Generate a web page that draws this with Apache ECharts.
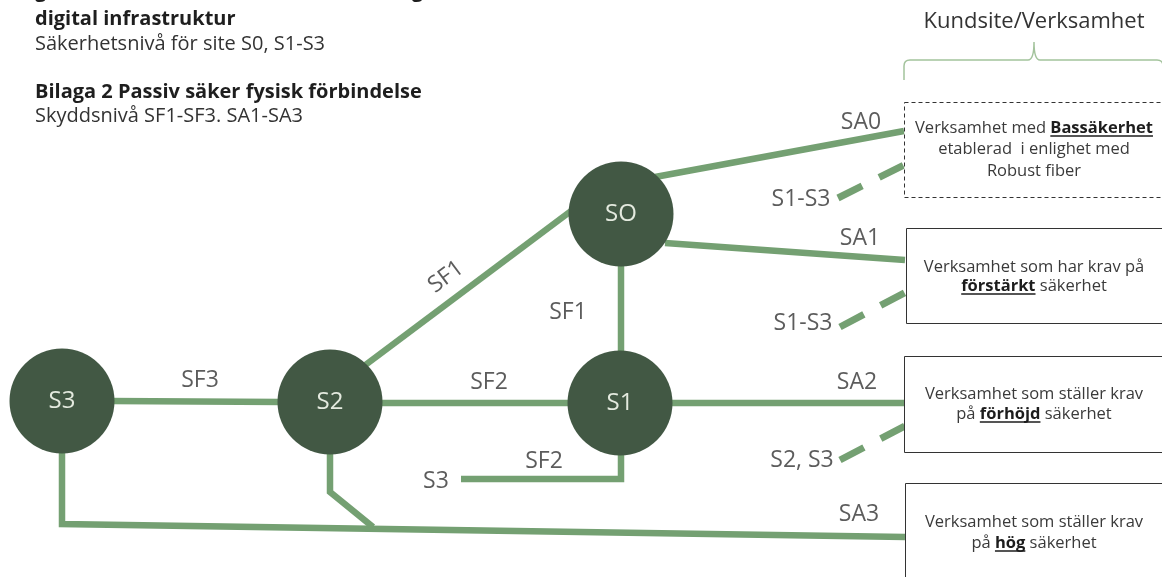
<!DOCTYPE html>
<html><head><meta charset="utf-8">
<script src="https://cdn.jsdelivr.net/npm/echarts@6/dist/echarts.min.js"></script>
<style>html,body{margin:0;padding:0;background:#fff}#c{width:1162px;height:577px}</style>
</head><body><div id="c"></div>
<script>
// ---------- data ----------
const nodeNames = ['S3', 'S2', 'S1', 'SO'];
const nodeX = [62, 330, 620, 621];
const nodeY = [401, 402, 403, 214];

// solid connections (polylines, diagram coordinates)
const solidEdges = [
  [[110, 401], [282, 402]],              // S3 - S2 (SF3)
  [[378, 403], [572, 403]],              // S2 - S1 (SF2)
  [[360, 369], [575, 208]],              // S2 - SO (SF1)
  [[621, 262], [621, 355]],              // SO - S1 (SF1)
  [[655, 177], [904, 131]],              // SO - SA0
  [[665, 243], [905, 260]],              // SO - SA1
  [[668, 403], [905, 403]],              // S1 - SA2
  [[621, 450], [621, 479], [461, 479]],  // S1 - S3 (SF2)
  [[62, 450], [62, 524], [905, 537]],    // S3 - SA3
  [[330, 452], [330, 492], [373, 527]]   // S2 - SA3
];
// dashed connections
const dashedEdges = [
  [[838, 198], [904, 165]],
  [[840, 327], [906, 292]],
  [[840, 460], [905, 426]]
];
// edge labels: text, x, y, rotation
const edgeLabelText = ['SF3', 'SF2', 'SF1', 'SF1', 'SA0', 'S1-S3', 'SA1', 'S1-S3', 'SA2', 'S2, S3', 'SF2', 'S3', 'SA3'];
const edgeLabelX    = [200, 489, 446, 568, 861, 801, 860, 803, 857, 802, 544, 436, 859];
const edgeLabelY    = [380, 382, 277, 312, 122, 199, 238, 323, 382, 460, 461, 481, 514];
const edgeLabelRot  = [0, 0, 37, 0, 0, 0, 0, 0, 0, 0, 0, 0, 0];

// customer boxes
const boxLeft   = [904, 906, 904, 905];
const boxTop    = [102, 228, 356, 483];
const boxBottom = [197, 323, 452, 600];
const boxDashed = [true, false, false, false];
const boxTextY  = [[128, 149, 171], [267, 286], [394, 414], [522, 543]];
// segments: [text, bold?]
const boxLines = [
  [[['Verksamhet med ', 0], ['Bassäkerhet', 1]], [['etablerad  i enlighet med', 0]], [['Robust fiber', 0]]],
  [[['Verksamhet som har krav på', 0]], [['förstärkt', 1], [' säkerhet', 0]]],
  [[['Verksamhet som ställer krav', 0]], [['på ', 0], ['förhöjd', 1], [' säkerhet', 0]]],
  [[['Verksamhet som ställer krav', 0]], [['på ', 0], ['hög', 1], [' säkerhet', 0]]]
];
const boxCenterX = 1034;
const rightEdge = 1163;

const headerTitle = 'Kundsite/Verksamhet';

// ---------- rendering ----------
const FONT = "'Open Sans', sans-serif";
const LINE = '#74a072';
const NODE = '#425844';
const TEXT = '#333333';
const BOXFONT = 16.5;

const mctx = document.createElement('canvas').getContext('2d');
function measure(t, bold, size) {
  mctx.font = (bold ? 'bold ' : 'normal ') + size + 'px ' + FONT;
  return mctx.measureText(t).width;
}

const chart = echarts.init(document.getElementById('c'));

const option = {
  animation: false,
  backgroundColor: '#ffffff',
  grid: { left: 0, right: 0, top: 0, bottom: 0 },
  xAxis: { type: 'value', min: 0, max: 1162, show: false },
  yAxis: { type: 'value', min: 0, max: 577, inverse: true, show: false },
  graphic: [
    { type: 'text', left: 35, top: -19, style: { text: 'gemensam säkerhet för samhällsviktig', font: 'bold 20px ' + FONT, fill: '#1e1e1e' } },
    { type: 'text', left: 35, top: 9, style: { text: 'digital infrastruktur', font: 'bold 20px ' + FONT, fill: '#1e1e1e' } },
    { type: 'text', left: 35, top: 34, style: { text: 'Säkerhetsnivå för site S0, S1-S3', font: 'normal 20px ' + FONT, fill: TEXT } },
    { type: 'text', left: 35, top: 82, style: { text: 'Bilaga 2 Passiv säker fysisk förbindelse', font: 'bold 20px ' + FONT, fill: '#1e1e1e' } },
    { type: 'text', left: 35, top: 106, style: { text: 'Skyddsnivå SF1-SF3. SA1-SA3', font: 'normal 20px ' + FONT, fill: TEXT } }
  ],
  series: [
    {
      type: 'lines', coordinateSystem: 'cartesian2d', polyline: true, silent: true, z: 1,
      data: solidEdges.map(c => ({ coords: c })),
      lineStyle: { color: LINE, width: 6.5, opacity: 1, cap: 'butt', join: 'miter' }
    },
    {
      type: 'lines', coordinateSystem: 'cartesian2d', polyline: false, silent: true, z: 1,
      data: dashedEdges.map(c => ({ coords: c })),
      lineStyle: { color: LINE, width: 7, opacity: 1, type: [27, 19], cap: 'butt' }
    },
    {
      type: 'scatter', z: 3, silent: true,
      data: nodeNames.map((n, i) => ({ value: [nodeX[i], nodeY[i]], name: n })),
      symbol: 'circle', symbolSize: 105,
      itemStyle: { color: NODE, opacity: 1 },
      label: { show: true, position: 'inside', formatter: p => p.name, color: '#e4eadf', fontSize: 24, fontFamily: FONT }
    },
    {
      type: 'scatter', z: 4, silent: true,
      data: edgeLabelText.map((t, i) => ({ value: [edgeLabelX[i], edgeLabelY[i]], name: t, label: { rotate: edgeLabelRot[i] } })),
      symbolSize: 0,
      label: { show: true, position: 'inside', formatter: p => p.name, color: TEXT, fontSize: 23, fontFamily: FONT }
    },
    {
      type: 'custom', z: 2, silent: true,
      data: boxLeft.map((x, i) => [i]),
      renderItem: function (params, api) {
        const i = api.value(0);
        const p0 = api.coord([boxLeft[i], boxTop[i]]);
        const p1 = api.coord([rightEdge, boxBottom[i]]);
        const children = [{
          type: 'rect',
          shape: { x: p0[0] + 0.5, y: p0[1] + 0.5, width: p1[0] - p0[0], height: p1[1] - p0[1] },
          style: { fill: '#ffffff', stroke: '#333333', lineWidth: 1, lineDash: boxDashed[i] ? [4, 3] : null }
        }];
        boxLines[i].forEach((segs, li) => {
          const size = BOXFONT;
          const widths = segs.map(s => measure(s[0], s[1], size));
          const total = widths.reduce((a, b) => a + b, 0);
          const c = api.coord([boxCenterX, boxTextY[i][li]]);
          let x = c[0] - total / 2;
          segs.forEach((s, si) => {
            children.push({
              type: 'text',
              style: { x: x, y: c[1], text: s[0], font: (s[1] ? 'bold ' : 'normal ') + size + 'px ' + FONT,
                       fill: s[1] ? '#1c1c1c' : '#3a3a3a', align: 'left', verticalAlign: 'middle' }
            });
            if (s[1]) {
              children.push({
                type: 'line',
                shape: { x1: x, y1: c[1] + 8, x2: x + widths[si], y2: c[1] + 8 },
                style: { stroke: '#1c1c1c', lineWidth: 1.5 }
              });
            }
            x += widths[si];
          });
        });
        return { type: 'group', children: children };
      }
    },
    {
      type: 'custom', z: 2, silent: true,
      data: [[0]],
      renderItem: function (params, api) {
        const L = api.coord([904, 80]);
        const T = api.coord([boxCenterX, 42]);
        const H = api.coord([rightEdge, 60]);
        const y = H[1];
        const d = 'M' + L[0] + ',' + L[1] + ' L' + L[0] + ',' + (y + 6) + ' Q' + L[0] + ',' + y + ' ' + (L[0] + 6) + ',' + y +
          ' L' + (T[0] - 6) + ',' + y + ' Q' + T[0] + ',' + y + ' ' + T[0] + ',' + T[1] +
          ' Q' + T[0] + ',' + y + ' ' + (T[0] + 6) + ',' + y + ' L' + (H[0] - 6) + ',' + y + ' Q' + H[0] + ',' + y + ' ' + H[0] + ',' + (y + 6);
        const tc = api.coord([boxCenterX, 22]);
        return { type: 'group', children: [
          { type: 'path', shape: { pathData: d }, style: { stroke: '#a3c39c', lineWidth: 1.5, fill: null } },
          { type: 'text', style: { x: tc[0], y: tc[1], text: headerTitle, font: 'normal 22px ' + FONT, fill: TEXT, align: 'center', verticalAlign: 'middle' } }
        ] };
      }
    }
  ]
};
chart.setOption(option);
</script>
</body></html>
